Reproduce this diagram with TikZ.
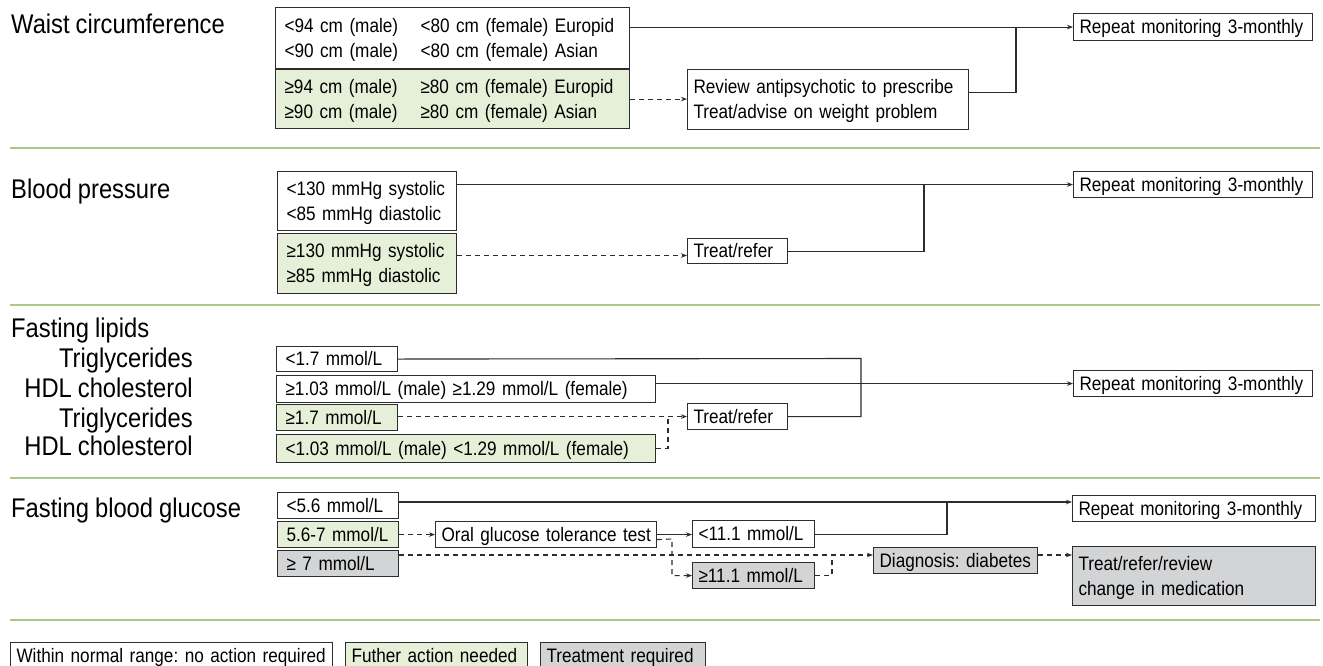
\documentclass[tikz,border=0pt]{standalone}
\usepackage{fontspec}
\setmainfont{Liberation Sans}[FakeStretch=0.88, WordSpace=0.9]
\usetikzlibrary{arrows.meta}
\definecolor{sepgreen}{RGB}{170,200,135}
\definecolor{boxgreen}{RGB}{230,240,216}
\definecolor{boxgray}{RGB}{211,212,214}
\definecolor{ink}{RGB}{45,45,45}
\tikzset{
 bx/.style={draw=ink, line width=1.1pt, rectangle, anchor=north west, inner xsep=6pt, inner ysep=0pt, align=left, font=\fontsize{19.5}{25}\selectfont, text height=16pt, text depth=3pt},
 lbx/.style={bx, inner xsep=9pt},
 two/.style={text height=16pt, text depth=28pt},
 gfill/.style={fill=boxgreen},
 kfill/.style={fill=boxgray},
 ttl/.style={anchor=base west, inner sep=0pt, font=\fontsize{27}{30}\selectfont},
 sub/.style={anchor=base east, inner sep=0pt, font=\fontsize{27}{30}\selectfont},
 sep/.style={draw=sepgreen, line width=1.8pt},
 con/.style={draw=ink, line width=1.1pt},
 arr/.style={con, -{Stealth[length=6pt,width=4.5pt]}},
 dsh/.style={con, dash pattern=on 5pt off 4pt},
 darr/.style={dsh, -{Stealth[length=6pt,width=4.5pt]}},
}
\begin{document}
\frenchspacing
\begin{tikzpicture}[x=1pt,y=-1pt]
\fill[white] (0,0) rectangle (1323,665);
\useasboundingbox (0,0) rectangle (1323,665);

% separators
\draw[sep] (10,148) -- (1320,148);
\draw[sep] (10,305) -- (1320,305);
\draw[sep] (10,478) -- (1320,478);
\draw[sep] (10,620) -- (1320,620);

% titles
\node[ttl] (tw) at (11,33) {Waist circumference};
\node[ttl] (tb) at (11,198) {Blood pressure};
\node[ttl] (tl) at (11,337) {Fasting lipids};
\node[sub] (s1) at (193,367) {Triglycerides};
\node[sub] (s2) at (193,397) {HDL cholesterol};
\node[sub] (s3) at (193,427) {Triglycerides};
\node[sub] (s4) at (193,455) {HDL cholesterol};
\node[ttl] (tg) at (11,517) {Fasting blood glucose};

% waist
\node[lbx, two, text width=336pt, minimum height=61pt] (W1) at (275,7)
  {\makebox[136pt][l]{<94 cm (male)}\mbox{<80 cm (female) Europid}\\\makebox[136pt][l]{<90 cm (male)}\mbox{<80 cm (female) Asian}};
\node[lbx, two, gfill, text width=336pt, minimum height=59pt] (W2) at (275,69)
  {\makebox[136pt][l]{≥94 cm (male)}\mbox{≥80 cm (female) Europid}\\\makebox[136pt][l]{≥90 cm (male)}\mbox{≥80 cm (female) Asian}};
\node[bx, two, text width=269pt, minimum height=60pt] (W3) at (687,69)
  {\mbox{Review antipsychotic to prescribe}\\\mbox{Treat/advise on weight problem}};
\node[bx, text width=227pt, minimum height=27pt] (R1) at (1073,13) {\mbox{Repeat monitoring 3-monthly}};
\coordinate (j1) at (1016,26.5);
\draw[arr] (W1.east |- R1.west) -- (R1.west);
\draw[con] ([yshift=7pt]W3.east) -| (j1);
\draw[darr] (W2.east) -- (W3.west |- W2.east);

% blood pressure
\node[lbx, two, text width=161pt, minimum height=59pt] (B1) at (277,171)
  {\mbox{<130 mmHg systolic}\\\mbox{<85 mmHg diastolic}};
\node[lbx, two, gfill, text width=161pt, minimum height=60pt] (B2) at (277,233)
  {\mbox{≥130 mmHg systolic}\\\mbox{≥85 mmHg diastolic}};
\node[bx, text width=88pt, minimum height=25pt] (TR1) at (687,238) {\mbox{Treat/refer}};
\node[bx, text width=227pt, minimum height=26pt] (R2) at (1073,171) {\mbox{Repeat monitoring 3-monthly}};
\coordinate (j2) at (924,184);
\coordinate (j8) at (600,255.5);
\draw[arr] (B1.east |- R2.west) -- (R2.west);
\draw[con] (TR1.east) -| (j2);
\draw[darr] (B2.east |- j8) -- (TR1.west |- j8);

% lipids
\node[lbx, text width=103pt, minimum height=25pt] (L1) at (276,346) {\mbox{<1.7 mmol/L}};
\node[lbx, text width=361pt, minimum height=27pt] (L2) at (276,375) {\mbox{≥1.03 mmol/L (male) ≥1.29 mmol/L (female)}};
\node[lbx, gfill, text width=103pt, minimum height=26pt] (L3) at (276,404) {\mbox{≥1.7 mmol/L}};
\node[lbx, gfill, text width=361pt, minimum height=28pt] (L4) at (276,434) {\mbox{<1.03 mmol/L (male) <1.29 mmol/L (female)}};
\node[bx, text width=88pt, minimum height=26pt] (TR2) at (687,403) {\mbox{Treat/refer}};
\node[bx, text width=227pt, minimum height=26pt] (R3) at (1073,370) {\mbox{Repeat monitoring 3-monthly}};
\coordinate (j3) at (861,358.5);
\coordinate (j4) at (668,416);
\draw[con] (L1.east) -- (j3) |- (TR2.east);
\draw[arr] (L2.east |- R3.west) -- (R3.west);
\draw[darr] (L3.east |- TR2.west) -- (TR2.west);
\draw[dsh] (L4.east) -| (j4);

% glucose
\node[lbx, text width=103pt, minimum height=26pt] (G1) at (277,492) {\mbox{<5.6 mmol/L}};
\node[lbx, gfill, text width=103pt, minimum height=26pt] (G2) at (277,521) {\mbox{5.6-7 mmol/L}};
\node[lbx, kfill, text width=103pt, minimum height=26pt] (G3) at (277,550) {\mbox{≥ 7 mmol/L}};
\node[bx, text width=209pt, minimum height=26pt] (OG) at (435,521) {\mbox{Oral glucose tolerance test}};
\node[bx, text width=110pt, minimum height=27pt] (LT) at (692,520) {\mbox{<11.1 mmol/L}};
\node[bx, kfill, text width=110pt, minimum height=26pt] (GE) at (692,562) {\mbox{≥11.1 mmol/L}};
\node[bx, kfill, text width=152pt, minimum height=26pt] (DG) at (873,547) {\mbox{Diagnosis: diabetes}};
\node[bx, two, kfill, text width=231pt, minimum height=59pt] (TRR) at (1072,546) {\mbox{Treat/refer/review}\\\mbox{change in medication}};
\node[bx, text width=231pt, minimum height=26pt] (R4) at (1072,495) {\mbox{Repeat monitoring 3-monthly}};
\coordinate (j5) at (947,502);
\coordinate (j6) at (672,539);
\coordinate (j7) at (832,555);
\draw[arr] (G1.east |- j5) -- (R4.west |- j5);
\draw[con] (LT.east) -| (j5);
\draw[darr] (G2.east) -- (OG.west);
\draw[arr] (OG.east) -- (LT.west |- OG.east);
\draw[darr] ([yshift=-5pt]OG.east) -- (j6) |- (GE.west);
\draw[darr] (G3.east |- j7) -- (DG.west |- j7);
\draw[dsh] (GE.east) -| (j7);
\draw[darr] (DG.east |- j7) -- (TRR.west |- j7);

% legend
\node[bx, text width=310pt, minimum height=26pt] (Lg1) at (10,642) {\mbox{Within normal range: no action required}};
\node[bx, gfill, text width=170pt, minimum height=26pt] (Lg2) at (345,642) {\mbox{Futher action needed}};
\node[bx, kfill, text width=153pt, minimum height=26pt] (Lg3) at (540,642) {\mbox{Treatment required}};
\end{tikzpicture}
\end{document}
